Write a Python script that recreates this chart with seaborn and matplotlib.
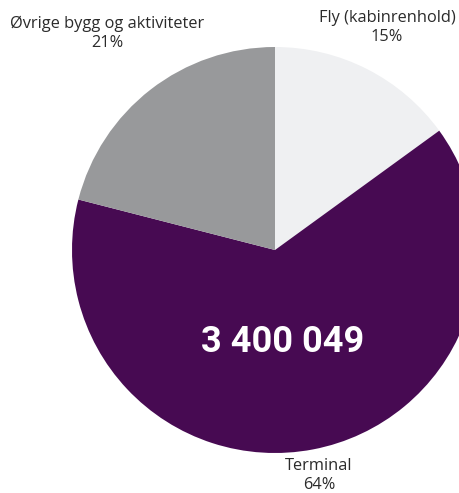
import matplotlib.pyplot as plt
import seaborn as sns

# Data
categories = ['Fly (kabinrenhold)', 'Terminal', 'Øvrige bygg og aktiviteter']
shares = [15, 64, 21]
total_label = '3 400 049'
colors = ['#eff0f2', '#470a52', '#98999b']

sns.set_theme(style='white')
plt.rcParams['font.family'] = ['Open Sans', 'DejaVu Sans']

fig = plt.figure(figsize=(4.6, 4.93), dpi=100)
ax = fig.add_axes([0, 0, 1, 1])

cx, cy, r = 275, 493 - 250, 203
ax.pie(shares, colors=colors, startangle=90, counterclock=False,
       center=(cx, cy), radius=r, frame=True,
       wedgeprops=dict(linewidth=0))
ax.set_xlim(0, 460)
ax.set_ylim(0, 493)
ax.set_aspect('equal')
ax.axis('off')

# Labels outside the pie
label_pos = [(387, 493 - 27), (319, 493 - 476), (107, 493 - 33)]
for name, pct, (x, y) in zip(categories, shares, label_pos):
    ax.text(x, y, f'{name}\n{pct}%', ha='center', va='center',
            fontsize=11.8, color='#2b2b2b', linespacing=1.25)

ax.text(283, 493 - 342, total_label, ha='center', va='center',
        fontsize=26, fontweight='bold', color='white', family=['Roboto', 'DejaVu Sans'])

fig.savefig('out.png', dpi=100)
